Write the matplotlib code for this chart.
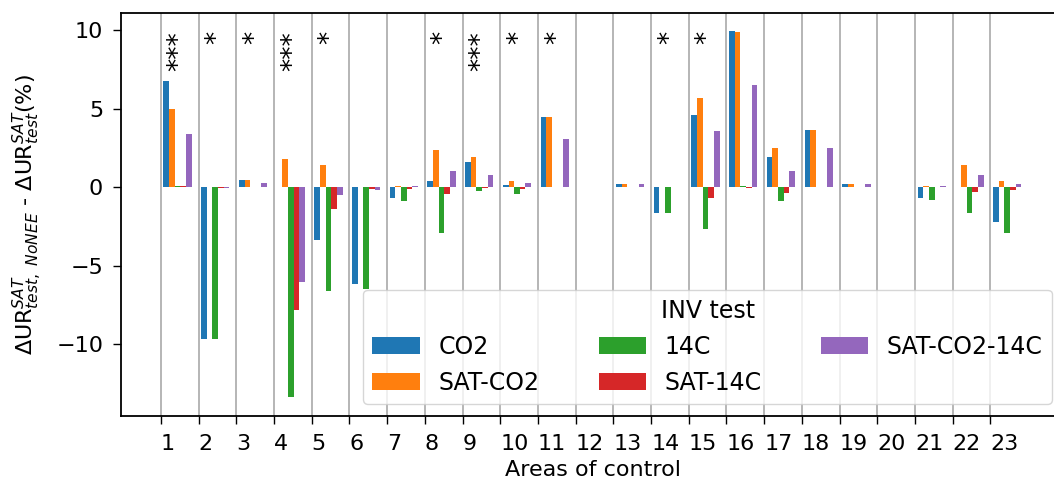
import numpy as np
import matplotlib
matplotlib.use("Agg")
import matplotlib.pyplot as plt

# Areas of control 1..23
areas = list(range(1, 24))

# Difference in uncertainty reduction (%) per INV test
co2 = [6.8, -9.7, 0.45, 0.03, -3.4, -6.2, -0.68, 0.4, 1.6, 0.13, 4.5, 0.0,
       0.19, -1.65, 4.6, 9.95, 1.95, 3.65, 0.19, 0.0, -0.68, 0.03, -2.25]
sat_co2 = [5.0, 0.03, 0.45, 1.8, 1.4, 0.03, 0.08, 2.4, 1.95, 0.4, 4.5, 0.0,
           0.19, 0.0, 5.7, 9.9, 2.5, 3.65, 0.19, 0.0, 0.08, 1.4, 0.38]
c14 = [0.05, -9.7, 0.0, -13.4, -6.65, -6.5, -0.87, -2.95, -0.25, -0.42, 0.0, 0.0,
       0.0, -1.65, -2.7, 0.05, -0.87, 0.0, 0.0, 0.0, -0.8, -1.68, -2.95]
sat_14c = [0.05, -0.03, 0.0, -7.85, -1.42, -0.1, -0.1, -0.42, -0.05, -0.15, 0.0, 0.0,
           0.0, 0.0, -0.7, -0.05, -0.36, 0.0, 0.0, 0.0, 0.0, -0.3, -0.21]
sat_co2_14c = [3.4, -0.05, 0.28, -6.05, -0.5, -0.17, 0.06, 1.05, 0.8, 0.25, 3.05, 0.0,
               0.17, 0.0, 3.57, 6.5, 1.0, 2.48, 0.17, 0.0, 0.08, 0.75, 0.17]

series = [co2, sat_co2, c14, sat_14c, sat_co2_14c]
labels = ["CO2", "SAT-CO2", "14C", "SAT-14C", "SAT-CO2-14C"]
colors = ["#1f77b4", "#ff7f0e", "#2ca02c", "#d62728", "#9467bd"]

# significance marks
star_areas = [1, 2, 3, 4, 5, 8, 9, 10, 11, 14, 15]
star_text = ["***", "*", "*", "***", "*", "*", "***", "*", "*", "*", "*"]

plt.rcParams["font.family"] = ["DejaVu Sans"]
fig = plt.figure(figsize=(10.54, 4.86), dpi=100)
# axes runs a little past the right edge of the figure, as in the source
ax = fig.add_axes([0.115, 0.144, 0.8945, 0.829])

x = np.array(areas, dtype=float)
width = 0.15
for k, (vals, lab, col) in enumerate(zip(series, labels, colors)):
    ax.bar(x + 0.07 + k * width, vals, width, align="edge", color=col, label=lab)

for a, s in zip(star_areas, star_text):
    ax.text(a + 0.5, 9.95, s, rotation=90, ha="center", va="top", fontsize=19)

ax.set_xlim(-0.05, 24.95)
ax.set_ylim(-14.6, 11.1)
ax.tick_params(axis="both", labelsize=16, length=6, width=1, pad=7)
ax.set_xticks(areas)
ax.set_xticklabels([str(a) for a in areas], ha="left", fontsize=16)
ax.set_yticks([-10, -5, 0, 5, 10])
ax.grid(axis="x", color="#b0b0b0", linewidth=1.3)
ax.set_axisbelow(True)
for sp in ax.spines.values():
    sp.set_linewidth(1.3)

ax.set_xlabel("Areas of control", fontsize=16, labelpad=4)
ax.set_ylabel(r"$\Delta\mathrm{UR}^{SAT}_{test,\ NoNEE}$ - $\Delta\mathrm{UR}^{SAT}_{test}$(%)",
              fontsize=16, labelpad=9)

ax.legend(title="INV test", ncol=3, loc="lower right", fontsize=17,
          title_fontsize=17, columnspacing=2.5)

fig.savefig("out.png", dpi=100)
